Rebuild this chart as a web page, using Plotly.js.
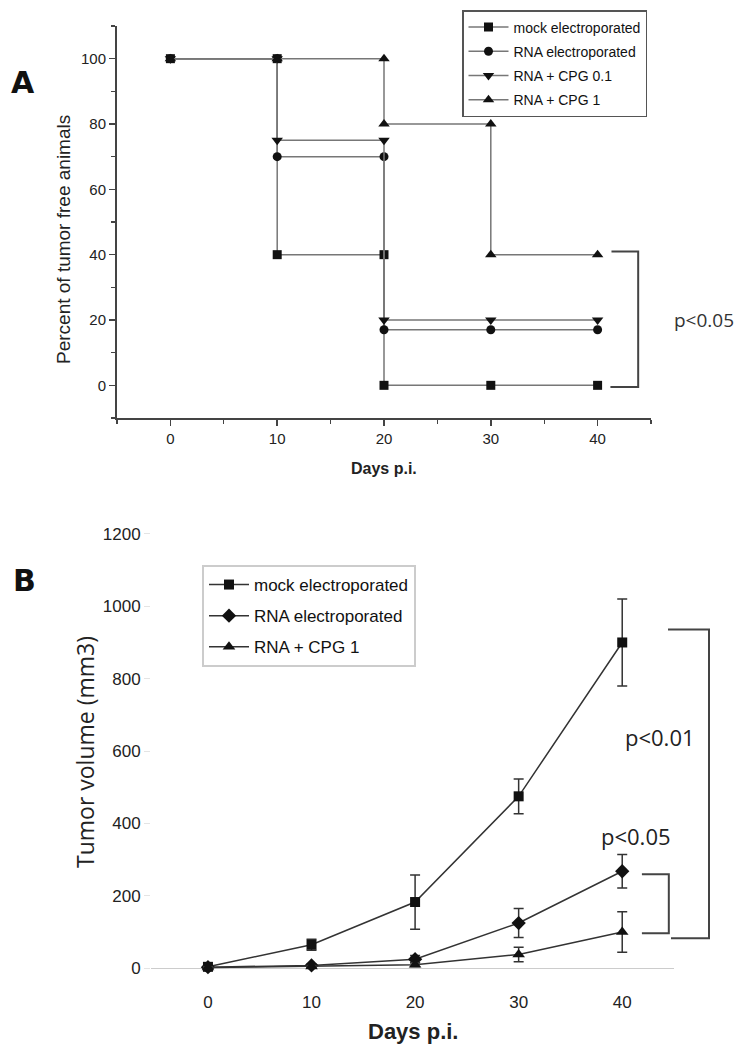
<!DOCTYPE html>
<html>
<head>
<meta charset="utf-8">
<script src="https://cdn.plot.ly/plotly-3.0.1.min.js"></script>
<style>
  body { margin: 0; background: #fff; }
  #plot { width: 742px; height: 1050px; }
</style>
</head>
<body>
<div id="plot"></div>
<script>
// ---- Panel A: percent of tumor free animals (step curves, repeated x = drop)
var mockX = [0, 10, 10, 20, 20, 30, 40];
var mockPct = [100, 100, 40, 40, 0, 0, 0];
var rnaX = [0, 10, 10, 20, 20, 30, 40];
var rnaPct = [100, 100, 70, 70, 17, 17, 17];
var cpg01X = [0, 10, 10, 20, 20, 30, 40];
var cpg01Pct = [100, 100, 75, 75, 20, 20, 20];
var cpg1X = [0, 10, 20, 20, 30, 30, 40];
var cpg1Pct = [100, 100, 100, 80, 80, 40, 40];

// ---- Panel B: tumor volume (mm3)
var days = [0, 10, 20, 30, 40];
var mockVol = [4, 65, 183, 475, 900];
var mockErr = [3, 15, 75, 48, 120];
var rnaVol = [3, 8, 25, 125, 268];
var rnaErr = [2, 4, 10, 40, 46];
var cpgVol = [2, 5, 10, 38, 100];
var cpgErr = [2, 3, 5, 20, 56];

var namesA = ["mock electroporated", "RNA electroporated", "RNA + CPG 0.1", "RNA + CPG 1"];
var namesB = ["mock electroporated", "RNA electroporated", "RNA + CPG 1"];

var sans = '"Liberation Sans", Arial, sans-serif';
var myriad = '"Open Sans", "Noto Sans", sans-serif';

// pixel -> paper helpers (figure has zero margins)
function px(x) { return x / 742; }
function py(y) { return 1 - y / 1050; }

function stepTrace(x, y, name, sym, size) {
  return {
    x: x, y: y, name: name, type: "scatter", mode: "lines+markers",
    xaxis: "x", yaxis: "y", legend: "legend", legendgroup: name + "A",
    line: {color: "#777", width: 1.5},
    marker: {symbol: sym, size: size, color: "#111"},
    cliponaxis: false
  };
}

function volTrace(y, err, name, sym, size) {
  return {
    x: days, y: y, name: name, type: "scatter", mode: "lines+markers",
    xaxis: "x2", yaxis: "y2", legend: "legend2", legendgroup: name + "B",
    line: {color: "#333", width: 1.5},
    marker: {symbol: sym, size: size, color: "#111"},
    error_y: {type: "data", array: err, color: "#333", thickness: 1.5, width: 5},
    cliponaxis: false
  };
}

var data = [
  stepTrace(mockX, mockPct, namesA[0], "square", 9),
  stepTrace(rnaX, rnaPct, namesA[1], "circle", 9),
  stepTrace(cpg01X, cpg01Pct, namesA[2], "triangle-down", 10),
  stepTrace(cpg1X, cpg1Pct, namesA[3], "triangle-up", 10),
  volTrace(mockVol, mockErr, namesB[0], "square", 10),
  volTrace(rnaVol, rnaErr, namesB[1], "diamond", 11),
  volTrace(cpgVol, cpgErr, namesB[2], "triangle-up", 11)
];

var axA = {
  showgrid: false, zeroline: false, showline: true,
  linecolor: "#444", linewidth: 2,
  ticks: "outside", ticklen: 6, tickwidth: 1.5, tickcolor: "#444",
  tickfont: {family: sans, size: 15, color: "#222"},
  minor: {ticks: "outside", ticklen: 4, tickwidth: 1.2, tickcolor: "#444"}
};

var layOut = {
  width: 742, height: 1050,
  margin: {l: 0, r: 0, t: 0, b: 0},
  paper_bgcolor: "#fff", plot_bgcolor: "#fff",
  showlegend: true,
  xaxis: Object.assign({}, axA, {
    domain: [px(117), px(651)], anchor: "y", range: [-5, 45],
    dtick: 10, minor: Object.assign({}, axA.minor, {dtick: 5})
  }),
  yaxis: Object.assign({}, axA, {
    domain: [py(418), py(26)], anchor: "x", range: [-10, 110],
    dtick: 20, minor: Object.assign({}, axA.minor, {dtick: 10})
  }),
  xaxis2: {
    domain: [px(151), px(674)], anchor: "y2", range: [-5.5, 45],
    dtick: 10, showgrid: false, zeroline: false, showline: false, ticks: "",
    tickfont: {family: sans, size: 17, color: "#222"}
  },
  yaxis2: {
    domain: [py(990), py(523)], anchor: "x2", range: [-60, 1230],
    dtick: 200, showgrid: false, showline: false,
    zeroline: true, zerolinecolor: "#ccc", zerolinewidth: 1.5,
    ticks: "outside", ticklen: 6, tickcolor: "#e4e4e4",
    tickfont: {family: sans, size: 17, color: "#222"}
  },
  legend: {
    x: px(462), y: py(10), xanchor: "left", yanchor: "top",
    bgcolor: "#fff", bordercolor: "#555", borderwidth: 1.5,
    font: {family: sans, size: 14, color: "#111"},
    tracegroupgap: 3, itemwidth: 40
  },
  legend2: {
    x: px(202), y: py(565), xanchor: "left", yanchor: "top",
    bgcolor: "#fff", bordercolor: "#ccc", borderwidth: 2,
    font: {family: sans, size: 17, color: "#111"},
    tracegroupgap: 6, itemwidth: 40
  },
  shapes: [
    {type: "path", xref: "x", yref: "y", path: "M41.3,41 H43.8 V-0.5 H41.2",
     line: {color: "#444", width: 2}},
    {type: "path", xref: "x2", yref: "y2", path: "M41.9,260 H44.5 V97 H41.9",
     line: {color: "#444", width: 2}},
    {type: "path", xref: "paper", yref: "y2",
     path: "M" + px(668) + ",936 H" + px(709) + " V83 H" + px(671),
     line: {color: "#444", width: 2}}
  ],
  annotations: [
    {text: "<b>A</b>", x: px(23), y: py(83), font: {family: "DejaVu Sans", size: 30, color: "#111"}},
    {text: "<b>B</b>", x: px(24), y: py(580), font: {family: "DejaVu Sans", size: 30, color: "#111"}},
    {text: "Percent of tumor free animals", x: px(64), y: py(240), textangle: -90,
     font: {family: sans, size: 19, color: "#222"}},
    {text: "<b>Days p.i.</b>", x: px(384), y: py(468), font: {family: sans, size: 16, color: "#222"}},
    {text: "Tumor volume (mm3)", x: px(85), y: py(752), textangle: -90,
     font: {family: myriad, size: 23, color: "#222"}},
    {text: "<b>Days p.i.</b>", x: px(413), y: py(1031), font: {family: sans, size: 22, color: "#222"}},
    {text: "p<0.05", x: px(704), yref: "y", y: 20, font: {family: myriad, size: 19, color: "#333"}},
    {text: "p<0.01", x: px(660), y: py(737), font: {family: myriad, size: 22, color: "#222"}},
    {text: "p<0.05", x: px(636), y: py(836), font: {family: myriad, size: 22, color: "#222"}}
  ].map(function (a) {
    return Object.assign({xref: "paper", yref: "paper", showarrow: false,
                          xanchor: "center", yanchor: "middle"}, a);
  })
};

Plotly.newPlot("plot", data, layOut, {staticPlot: true});
</script>
</body>
</html>
